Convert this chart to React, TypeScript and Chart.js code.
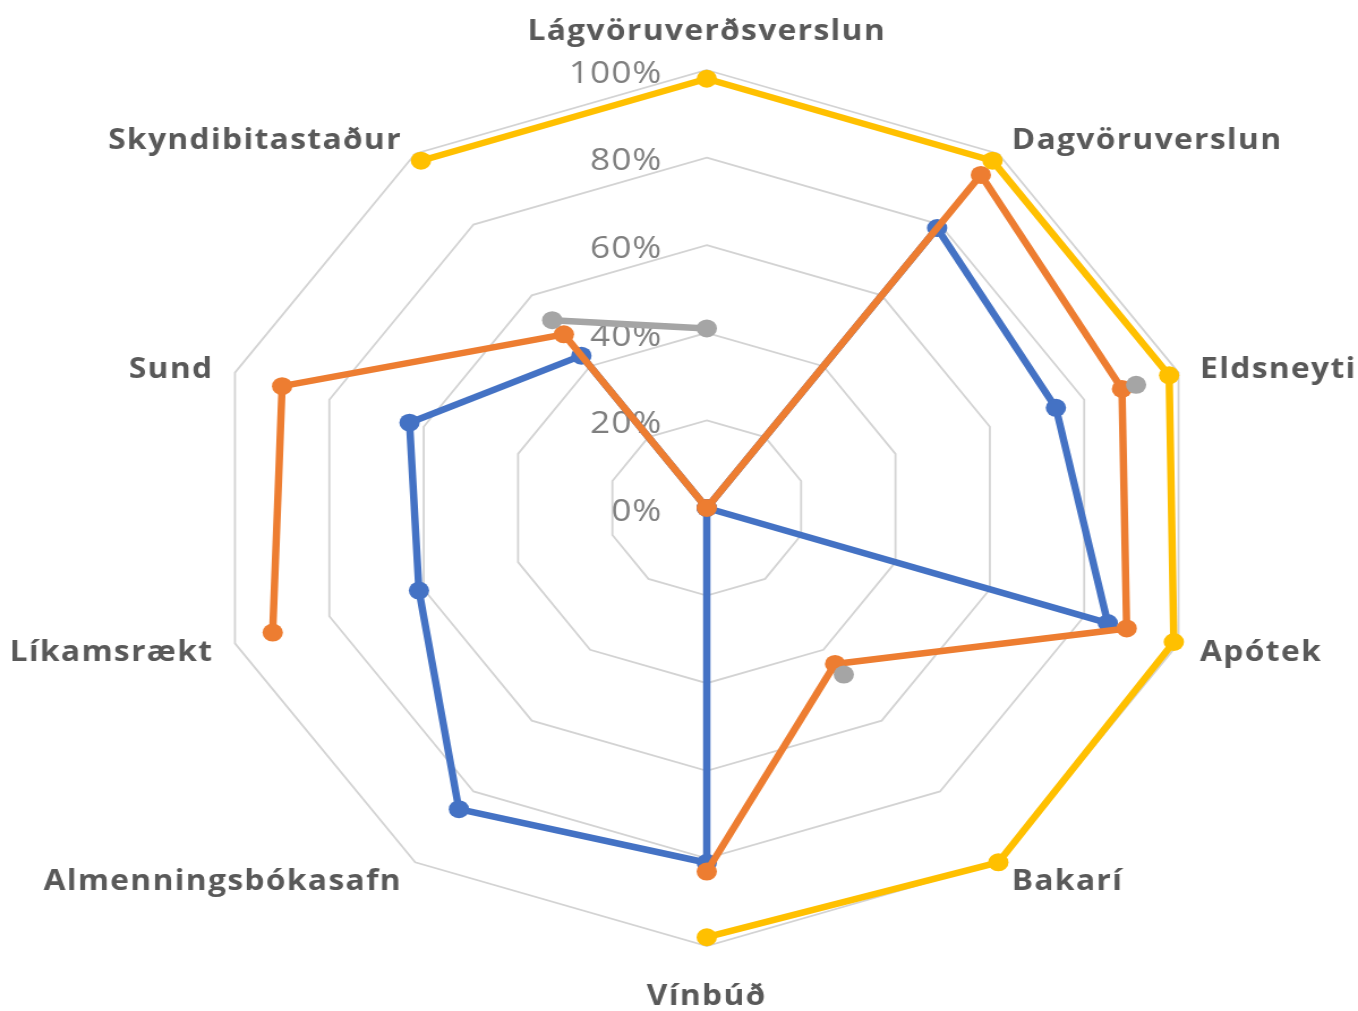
import React, { useEffect, useRef } from 'react';
import { Chart, registerables } from 'chart.js';

Chart.register(...registerables);

// ---- data ----
const CATEGORIES = [
  'Lágvöruverðsverslun',
  'Dagvöruverslun',
  'Eldsneyti',
  'Apótek',
  'Bakarí',
  'Vínbúð',
  'Almenningsbókasafn',
  'Líkamsrækt',
  'Sund',
  'Skyndibitastaður',
];

const SERIES_NAMES = ['Röð 1', 'Röð 2', 'Röð 3', 'Röð 4'];
const SERIES_COLORS = ['#4472C4', '#ED7D31', '#A5A5A5', '#FFC000'];

const BLUE = [0, 0.79, 0.74, 0.85, 0, 0.81, 0.85, 0.61, 0.63, 0.43];
const ORANGE = [0, 0.94, 0.88, 0.89, 0.44, 0.83, null, 0.92, 0.9, 0.49];
const GRAY = [0.41, null, 0.91, null, 0.47, null, null, null, null, 0.53];
const YELLOW = [0.98, 0.98, 0.98, 0.99, 1.0, 0.98, null, null, null, 0.98];

const TICK_VALUES = [0, 0.2, 0.4, 0.6, 0.8, 1];
const TICK_LABELS = ['0%', '20%', '40%', '60%', '80%', '100%'];

// ---- layout ----
const PAGE_W = 1358;
const PAGE_H = 1011;
const STRETCH = 1.1326;
const CANVAS_W = Math.round(PAGE_W / STRETCH);

const textPlugin = {
  id: 'excelText',
  beforeDatasetsDraw(chart: any) {
    const scale = chart.scales.r;
    const ctx = chart.ctx as any;
    ctx.save();
    // radial tick labels, left of the vertical axis
    ctx.font = '400 31px "Open Sans"';
    ctx.letterSpacing = '1px';
    ctx.fillStyle = '#7f7f7f';
    ctx.textAlign = 'right';
    ctx.textBaseline = 'middle';
    TICK_VALUES.forEach((v, i) => {
      const d = scale.getDistanceFromCenterForValue(v);
      ctx.fillText(TICK_LABELS[i], scale.xCenter - 39, scale.yCenter - d + 4);
    });
    // category labels
    ctx.font = '700 28px "Open Sans"';
    ctx.letterSpacing = '1.2px';
    ctx.fillStyle = '#595959';
    CATEGORIES.forEach((label, i) => {
      const a = scale.getIndexAngle(i);
      let deg = Math.round((a * 180) / Math.PI) % 360;
      if (deg < 0) deg += 360;
      const pad = deg === 0 ? 42 : deg === 180 ? 47 : 20;
      const p = scale.getPointPosition(i, scale.drawingArea + pad);
      ctx.textBaseline = 'middle';
      if (deg === 0 || deg === 180) ctx.textAlign = 'center';
      else if (deg < 180) ctx.textAlign = 'left';
      else ctx.textAlign = 'right';
      ctx.fillText(label, p.x, p.y + 4);
    });
    ctx.restore();
  },
};

export default function App() {
  const ref = useRef<HTMLCanvasElement>(null);

  useEffect(() => {
    const canvas = ref.current;
    if (!canvas) return;
    const values = [BLUE, ORANGE, GRAY, YELLOW];
    const datasets = values.map((data, i) => ({
      label: SERIES_NAMES[i],
      data,
      borderColor: SERIES_COLORS[i],
      backgroundColor: SERIES_COLORS[i],
      pointBackgroundColor: SERIES_COLORS[i],
      pointBorderColor: SERIES_COLORS[i],
      pointBorderWidth: 0,
      pointRadius: 9,
      borderWidth: 6.5,
      borderJoinStyle: 'round' as const,
      borderCapStyle: 'round' as const,
      fill: false,
      spanGaps: false,
      tension: 0,
      order: values.length - i,
    }));

    const chart = new Chart(canvas, {
      type: 'radar',
      data: { labels: CATEGORIES, datasets },
      options: {
        responsive: false,
        devicePixelRatio: 1,
        animation: false,
        layout: { padding: { top: 70, bottom: 65, left: 100, right: 51 } },
        plugins: {
          legend: { display: false },
          tooltip: { enabled: false },
        },
        scales: {
          r: {
            min: 0,
            max: 1,
            afterBuildTicks: (scale: any) => {
              scale.ticks = TICK_VALUES.map((v) => ({ value: v }));
            },
            ticks: { display: false, stepSize: 0.2 },
            grid: { color: '#d3d3d3', lineWidth: 1.8, circular: false },
            angleLines: { display: false },
            pointLabels: { display: false },
          },
        },
      } as any,
      plugins: [textPlugin],
    });
    return () => chart.destroy();
  }, []);

  return (
    <div
      style={{
        position: 'fixed',
        left: 0,
        top: 0,
        width: PAGE_W,
        height: PAGE_H,
        background: '#ffffff',
      }}
    >
      <canvas
        ref={ref}
        width={CANVAS_W}
        height={PAGE_H}
        style={{ width: PAGE_W + 'px', height: PAGE_H + 'px', display: 'block' }}
      />
    </div>
  );
}
